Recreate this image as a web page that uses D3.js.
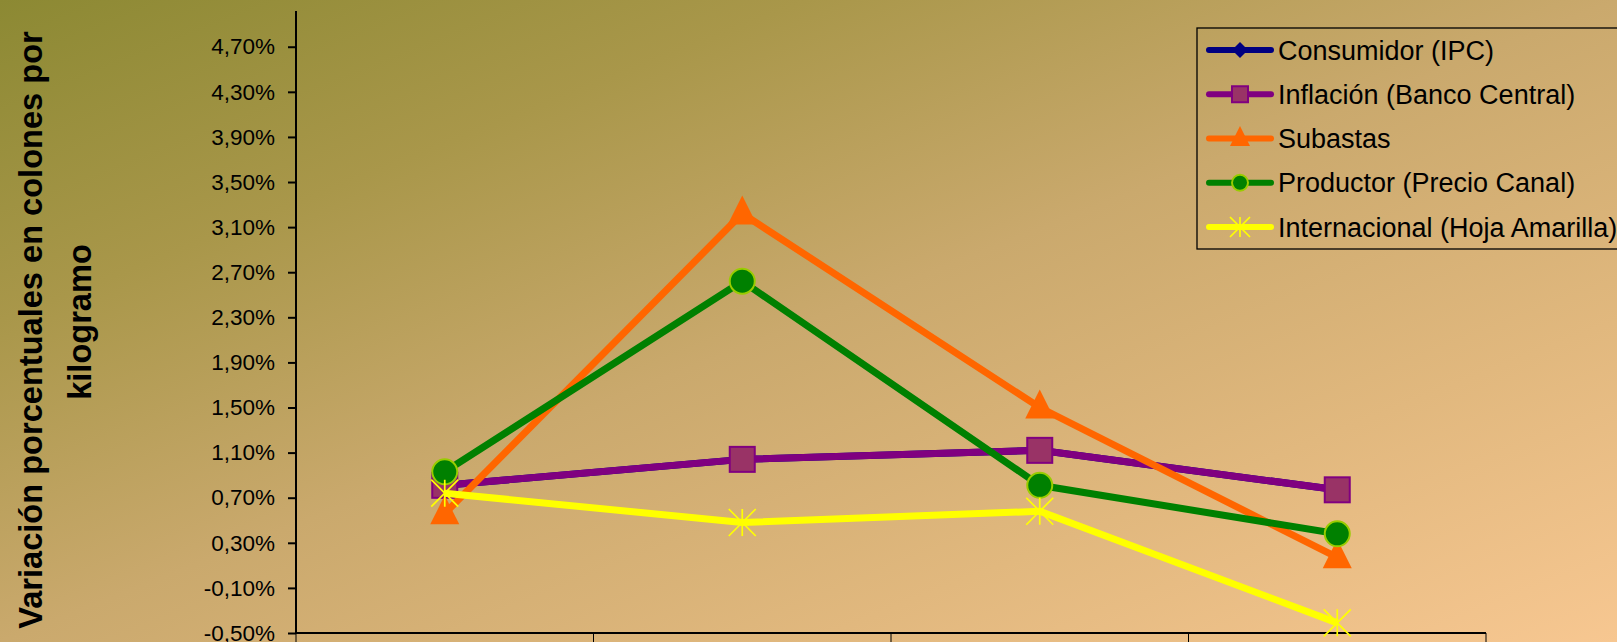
<!DOCTYPE html>
<html>
<head>
<meta charset="utf-8">
<script src="https://cdn.jsdelivr.net/npm/d3@7"></script>
<style>
html,body{margin:0;padding:0;overflow:hidden;background:#fff;}
svg{display:block;}
</style>
</head>
<body>
<svg id="chart" width="1617" height="642"></svg>
<script>
// ---- data ----
// category labels lie below the visible area in the reference, so they are not drawn
const categories = ["Período 1", "Período 2", "Período 3", "Período 4"];
const seriesNames = ["Consumidor (IPC)", "Inflación (Banco Central)", "Subastas", "Productor (Precio Canal)", "Internacional (Hoja Amarilla)"];
const consumidor    = [0.81, 1.04, 1.12, 0.77];
const inflacion     = [0.81, 1.04, 1.12, 0.77];
const subastas      = [0.56, 3.22, 1.50, 0.17];
const productor     = [0.93, 2.62, 0.81, 0.38];
const internacional = [0.74, 0.48, 0.58, -0.41];
const yTicks = [-0.5, -0.1, 0.3, 0.7, 1.1, 1.5, 1.9, 2.3, 2.7, 3.1, 3.5, 3.9, 4.3, 4.7];
const yDomain = [-0.5, 5.0];
const yTitleLines = ["Variación porcentuales en colones por", "kilogramo"];

const seriesValues = [consumidor, inflacion, subastas, productor, internacional];
const styles = [
  {line:"#000080", marker:"diamond", fill:"#000080", stroke:"#000080"},
  {line:"#800080", marker:"square",  fill:"#993366", stroke:"#800080"},
  {line:"#ff6600", marker:"triangle",fill:"#ff6600", stroke:"#ff6600"},
  {line:"#008000", marker:"circle",  fill:"#008000", stroke:"#99cc00"},
  {line:"#ffff00", marker:"star",    fill:"none",    stroke:"#ffff00"}
];

const svg = d3.select("#chart");
const W = 1617, H = 642;
const FONT = "'Liberation Sans', Arial, sans-serif";

// background gradient
const defs = svg.append("defs");
const grad = defs.append("linearGradient").attr("id","bg")
  .attr("x1","0").attr("y1","0").attr("x2","1").attr("y2","1");
[["0","#8c8933"],["0.25","#a9974a"],["0.5","#caa96d"],["0.75","#e1b87e"],["1","#f7c791"]]
  .forEach(([o,c]) => grad.append("stop").attr("offset",o).attr("stop-color",c));
svg.append("rect").attr("width",W).attr("height",H).attr("fill","url(#bg)");

// scales
const plot = {left:296, right:1486, top:12.9, bottom:633};
const x = d3.scaleBand().domain(categories).range([plot.left, plot.right]);
const y = d3.scaleLinear().domain(yDomain).range([plot.bottom, plot.top]);
const cx = c => x(c) + x.bandwidth()/2;

// y axis
const fmt = v => (v < 0 ? "-" : "") + d3.format(".2f")(Math.abs(v)).replace(".", ",") + "%";
const yAxis = d3.axisLeft(y).tickValues(yTicks).tickFormat(fmt).tickSize(8).tickPadding(13);
const gy = svg.append("g").attr("transform",`translate(${plot.left},0)`).call(yAxis);
gy.select(".domain").remove();
gy.selectAll(".tick line").attr("stroke","#000").attr("stroke-width",2);
gy.selectAll(".tick text").attr("font-family",FONT)
  .attr("font-size",22.5).attr("fill","#000");
svg.append("line").attr("x1",plot.left).attr("x2",plot.left).attr("y1",11).attr("y2",plot.bottom)
  .attr("stroke","#000").attr("stroke-width",2);

// x axis (line + category boundary ticks)
svg.append("line").attr("x1",plot.left).attr("x2",plot.right).attr("y1",plot.bottom).attr("y2",plot.bottom)
  .attr("stroke","#000").attr("stroke-width",2);
const bounds = categories.map(c => x(c)).concat([plot.right]);
svg.append("g").selectAll("line").data(bounds).join("line")
  .attr("x1",d=>d).attr("x2",d=>d).attr("y1",plot.bottom).attr("y2",plot.bottom+9)
  .attr("stroke","#000").attr("stroke-width",1);

// y title
const titleCenters = [330, 322];
const tg = svg.append("g").attr("transform","translate(42,0) rotate(-90)");
tg.selectAll("text").data(yTitleLines).join("text")
  .attr("x",(d,i)=>-titleCenters[i]).attr("y",(d,i)=>i*49).attr("text-anchor","middle")
  .attr("font-family",FONT).attr("font-weight","bold")
  .attr("font-size",32.6).attr("fill","#000").text(d=>d);

// markers
function drawMarker(g, type, st, size) {
  const h = size/2;
  if (type==="square") {
    g.append("rect").attr("x",-h).attr("y",-h).attr("width",size).attr("height",size)
      .attr("fill",st.fill).attr("stroke",st.stroke).attr("stroke-width",2);
  } else if (type==="circle") {
    g.append("circle").attr("r",h).attr("fill",st.fill).attr("stroke",st.stroke).attr("stroke-width",2);
  } else if (type==="triangle") {
    g.append("path").attr("d",`M0,${-h}L${h},${h}L${-h},${h}Z`).attr("fill",st.fill)
      .attr("transform",`translate(0,${-h*0.25})`);
  } else if (type==="diamond") {
    g.append("path").attr("d",`M0,${-h}L${h},0L0,${h}L${-h},0Z`).attr("fill",st.fill);
  } else if (type==="star") {
    g.append("path").attr("d",`M0,${-h}L0,${h}M${-h},${-h}L${h},${h}M${h},${-h}L${-h},${h}`)
      .attr("stroke",st.stroke).attr("stroke-width",1.7).attr("fill","none");
  }
}

const line = d3.line().x((d,i)=>cx(categories[i])).y(d=>y(d));
seriesValues.forEach((vals, si) => {
  const st = styles[si];
  const g = svg.append("g");
  g.append("path").attr("d", line(vals)).attr("fill","none").attr("stroke",st.line)
    .attr("stroke-width",7).attr("stroke-linejoin","miter");
  vals.forEach((v,i) => {
    const mg = g.append("g").attr("transform",`translate(${cx(categories[i])},${y(v)})`);
    drawMarker(mg, st.marker, st, st.marker==="triangle"?29:(st.marker==="star"?27:25));
  });
});

// legend
const lg = svg.append("g");
lg.append("rect").attr("x",1197).attr("y",28).attr("width",440).attr("height",221)
  .attr("fill","none").attr("stroke","#000").attr("stroke-width",1.3);
const ly = d3.scalePoint().domain(seriesNames).range([50,227]);
seriesNames.forEach((name, si) => {
  const st = styles[si];
  const yy = ly(name);
  lg.append("line").attr("x1",1209).attr("x2",1271).attr("y1",yy).attr("y2",yy)
    .attr("stroke",st.line).attr("stroke-width",6).attr("stroke-linecap","round");
  const mg = lg.append("g").attr("transform",`translate(1240,${yy})`);
  drawMarker(mg, st.marker, st, st.marker==="triangle"?20:(st.marker==="star"?20:16));
  lg.append("text").attr("x",1278).attr("y",yy).attr("dy","0.36em")
    .attr("font-family",FONT).attr("font-size",27)
    .attr("fill","#000").text(name);
});
</script>
</body>
</html>
